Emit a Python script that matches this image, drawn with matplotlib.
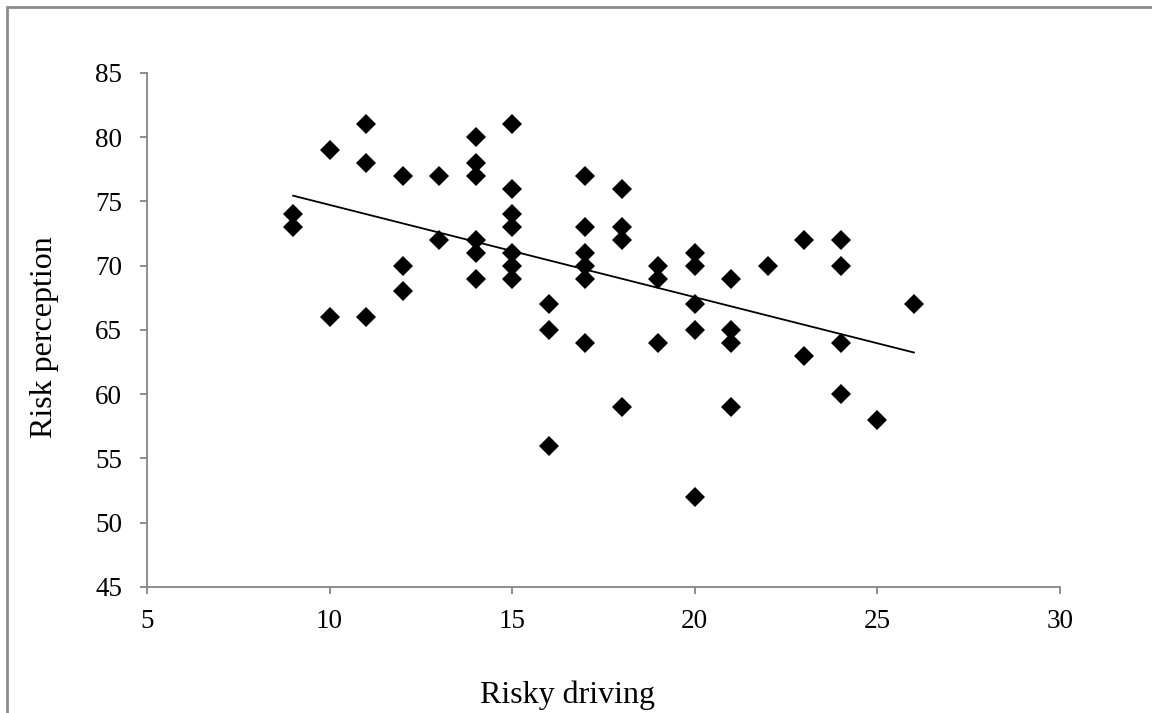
import numpy as np
import matplotlib
matplotlib.use('Agg')
import matplotlib.pyplot as plt
from matplotlib.patches import Rectangle

# risky driving score (x) and risk perception score (y)
risky_driving = [9, 9,
                 10, 10,
                 11, 11, 11,
                 12, 12, 12,
                 13, 13,
                 14, 14, 14, 14, 14, 14,
                 15, 15, 15, 15, 15, 15, 15,
                 16, 16, 16,
                 17, 17, 17, 17, 17, 17,
                 18, 18, 18, 18,
                 19, 19, 19,
                 20, 20, 20, 20, 20,
                 21, 21, 21, 21,
                 22,
                 23, 23,
                 24, 24, 24, 24,
                 25,
                 26]
risk_perception = [74, 73,
                   79, 66,
                   81, 78, 66,
                   77, 70, 68,
                   77, 72,
                   80, 78, 77, 72, 71, 69,
                   81, 76, 74, 73, 71, 70, 69,
                   67, 65, 56,
                   77, 73, 71, 70, 69, 64,
                   76, 73, 72, 59,
                   70, 69, 64,
                   71, 70, 67, 65, 52,
                   69, 65, 64, 59,
                   70,
                   72, 63,
                   72, 70, 64, 60,
                   58,
                   67]

x = np.array(risky_driving)
y = np.array(risk_perception)

x_ticks = [5, 10, 15, 20, 25, 30]
y_ticks = [45, 50, 55, 60, 65, 70, 75, 80, 85]

fontname = 'Liberation Serif'
axis_grey = '#868686'

fig = plt.figure(figsize=(11.52, 7.13), dpi=100)
ax = fig.add_axes([147/1152, 1-587/713, (1060-147)/1152, (587-73)/713])

ax.plot(x, y, linestyle='none', marker='D', markersize=10.5,
        color='black', markeredgewidth=0)

# linear trendline
slope, intercept = np.polyfit(x, y, 1)
xs = np.array([x.min(), x.max()])
ax.plot(xs, slope*xs + intercept, color='black', linewidth=1.3)

ax.set_xlim(5, 30)
ax.set_ylim(45, 85)
ax.set_xticks(x_ticks)
ax.set_yticks(y_ticks)
ax.set_xticklabels([str(t) for t in x_ticks], fontname=fontname, fontsize=19.5)
ax.set_yticklabels([str(t) for t in y_ticks], fontname=fontname, fontsize=19.5)

for side in ['top', 'right']:
    ax.spines[side].set_visible(False)
for side in ['left', 'bottom']:
    ax.spines[side].set_color(axis_grey)
    ax.spines[side].set_linewidth(1.3)
ax.tick_params(axis='both', direction='out', length=5, width=1.3, color=axis_grey)
ax.tick_params(axis='x', pad=11)
ax.tick_params(axis='y', pad=13)

ax.set_xlabel('Risky driving', fontname=fontname, fontsize=23, va='center')
ax.set_ylabel('Risk perception', fontname=fontname, fontsize=23, va='center')
ax.xaxis.set_label_coords((567-147)/913, (587-695)/514)
ax.yaxis.set_label_coords((45-147)/913, (587-337)/514)

# chart area border (runs past the right and bottom edge of the picture)
fig.patches.append(Rectangle((6.5/1152, -0.2), 1.2, 1.2 - 6.5/713,
                             transform=fig.transFigure, fill=False,
                             edgecolor='#8c8c8c', linewidth=2))

fig.savefig('out.png', dpi=100)
